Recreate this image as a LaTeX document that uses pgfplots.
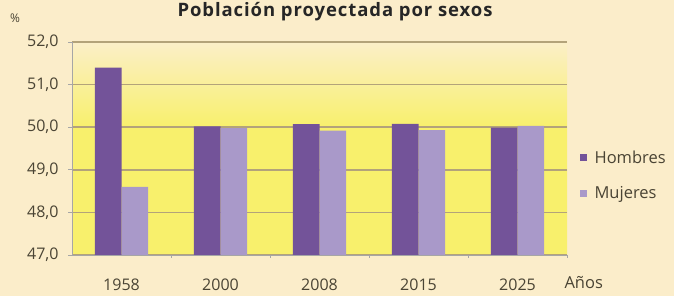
\documentclass[border=0pt]{standalone}
\usepackage{pgfplots}
\pgfplotsset{compat=1.18}
\usepackage{fontspec}
\setmainfont{Open Sans}
\definecolor{bgcream}{HTML}{FBEDCA}
\definecolor{pyellow}{HTML}{F8F06C}
\definecolor{ptop}{HTML}{FBEFC8}
\definecolor{hombres}{HTML}{735399}
\definecolor{mujeres}{HTML}{A999C9}
\definecolor{gridc}{HTML}{B3A37A}
\definecolor{txt}{HTML}{4A4434}
\pgfdeclareverticalshading{plotbg}{100bp}{color(0bp)=(pyellow); color(55bp)=(pyellow); color(75bp)=(ptop); color(100bp)=(ptop)}
\begin{document}
\begin{tikzpicture}[x=1pt,y=1pt]
\fill[bgcream] (0,0) rectangle (674,296);
\useasboundingbox (0,0) rectangle (674,296);
\node[font=\bfseries\fontsize{18.5}{20}\selectfont, text=black!85, anchor=base] at (335,279) {\addfontfeatures{LetterSpace=5}Población proyectada por sexos};
\node[font=\fontsize{12}{13}\selectfont, text=txt] at (15,278) {\%};
\node[font=\fontsize{16.5}{18}\selectfont, text=txt, anchor=west] at (561,13) {Años};
\begin{axis}[
  at={(72pt,41pt)}, anchor=south west,
  width=495pt, height=213pt, scale only axis,
  xmin=-0.5, xmax=4.5, ymin=47, ymax=52,
  ybar=0pt, bar width=0.27,
  xtick={0,1,2,3,4}, xticklabels={1958,2000,2008,2015,2025},
  minor xtick={0.5,1.5,2.5,3.5,4.5},
  xtick style={draw=none},
  minor tick length=3pt,
  minor x tick style={draw=gray!70, line width=0.8pt},
  ytick={47,48,...,52},
  /pgf/number format/fixed,
  /pgf/number format/fixed zerofill,
  /pgf/number format/precision=1,
  /pgf/number format/use comma,
  /pgf/number format/assume math mode=true,
  ymajorgrids, grid style={draw=gridc, line width=1.6pt},
  ytick style={draw=gray!70, line width=0.8pt},
  major tick length=4pt,
  tick align=outside,
  axis x line*=bottom, axis y line*=left,
  axis line style={draw=gray!70, line width=0.9pt, -},
  axis background/.style={shading=plotbg},
  ticklabel style={font=\fontsize{16}{18}\selectfont, text=txt},
  xticklabel style={yshift=-16pt},
  yticklabel style={xshift=-6pt},
  legend style={at={(1.025,0.50)}, anchor=north west, draw=none, fill=none, font=\fontsize{16.5}{18}\selectfont, text=txt, row sep=18pt, legend cell align=left, inner sep=0pt},
  legend image code/.code={\fill[#1] (0pt,-3.5pt) rectangle (7pt,3.5pt);},
  legend entries={\hspace{6pt}Hombres,\hspace{6pt}Mujeres},
]
\addplot[fill=hombres, draw=none] coordinates {(0,51.4) (1,50.02) (2,50.07) (3,50.08) (4,49.99)};
\addplot[fill=mujeres, draw=none] coordinates {(0,48.6) (1,49.98) (2,49.92) (3,49.93) (4,50.03)};
\end{axis}
\end{tikzpicture}
\end{document}
